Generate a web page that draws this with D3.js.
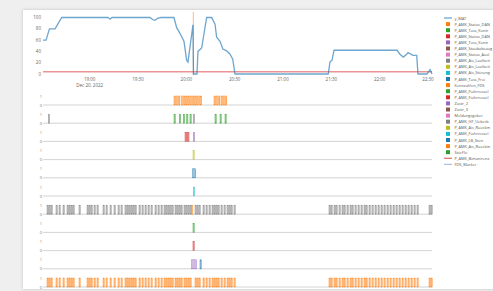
<!DOCTYPE html>
<html><head><meta charset="utf-8">
<script src="https://cdn.jsdelivr.net/npm/d3@7"></script>
<style>
html,body{margin:0;padding:0;background:#efefef;width:493px;height:291px;overflow:hidden;font-family:"Open Sans",Arial,sans-serif}
#card{position:absolute;left:23px;top:10px;width:480px;height:279px;background:#fff;box-shadow:0 0 3px rgba(0,0,0,0.2)}
svg{position:absolute;left:0;top:0}
</style></head><body><div id="card"></div><svg id="chart" width="493" height="291"></svg>
<script>
const day = "2022-12-20";
const xDomain = ["18:31:00", "22:32:30"];
const xTicks = ["19:00", "19:30", "20:00", "20:30", "21:00", "21:30", "22:00", "22:30"];
const dateLabel = "Dec 20, 2022";
const yTicks = [0, 20, 40, 60, 80, 100];

const lineTimes = ["18:31:00","18:32:54","18:35:00","18:38:30","18:42:36","19:11:24","19:12:36","19:13:48","19:37:24","19:39:18","19:40:30","19:42:24","19:44:18","19:52:18","19:54:00","19:56:00","19:58:30","20:00:12","20:01:00","20:04:06","20:04:24","20:06:36","20:07:12","20:09:30","20:12:36","20:15:42","20:17:48","20:18:48","20:20:54","20:22:42","20:25:00","20:27:06","20:28:48","20:30:12","21:28:06","21:29:12","21:30:24","21:31:42","22:10:48","22:12:36","22:14:42","22:16:48","22:17:36","22:18:48","22:20:42","22:23:00","22:23:48","22:29:24","22:31:18","22:32:30"];
const lineValues = [60,60,80,80,100,100,97,100,100,96,95,99,100,100,82,72,58,24,21,87,0,0,40,46,100,100,88,65,58,44,41,35,26,0,0,22,24,42,42,35,30,35,38,36,33,33,0,0,8,0];
const limitValue = 4;
const markerTimes = ["20:04:20"];

const legendNames = ["y_MAT","P_AMK_Status_DAN","P_AMK_Tass_Kontr","P_AMK_Status_DAN","P_AMK_Tass_Kontr","P_AMK_Staubabsaug","P_AMK_Status_Ausl","P_AMK_Ais_Laufzeit","P_AMK_Ais_Laufzeit","P_AMK_Ais_Störung","P_AMK_Tass_Frei","Kennzahlen_FDS","P_AMK_Fiahrrossel","P_AMK_Fiahrrossel","Zustr_2","Zustr_3","Meldungsgeber","P_AMK_HF_Ueberb","P_AMK_Ais_Rueckm","P_AMK_Fiahrrossel","P_AMK_LB_Ston","P_AMK_Ais_Rueckm","StörFlo","P_AMK_Bimanirenz","FDS_Marker"];

// strip data
const row1Spans = [["19:52:20","19:53:20"],["19:53:55","19:54:55"],["19:55:25","19:56:00"],["19:57:00","19:58:00"],["19:58:30","19:59:15"],["19:59:45","20:00:30"],["20:01:00","20:02:00"],["20:02:35","20:03:35"],["20:04:05","20:04:50"],["20:05:20","20:06:20"],["20:06:55","20:07:55"],["20:08:25","20:09:30"],["20:17:10","20:18:10"],["20:18:45","20:19:45"],["20:20:15","20:20:40"],["20:21:30","20:22:30"],["20:23:05","20:24:05"],["20:24:35","20:25:00"]];
const row2Green = ["19:52:20","19:55:37","19:58:06","20:00:13","20:02:15","20:17:47","20:20:53","20:23:59"];
const row2Gray = ["18:34:17","20:04:19"];
const row3Red = [["19:59:10","20:00:13"],["20:00:35","20:01:38"]];
const row3Purple = ["20:04:19"];
const row4Olive = ["20:04:07"];
const row5Blue = [["20:03:56","20:05:40"]];
const row6Blue = ["20:04:19"];
const denseTimes = ["18:33:29","18:34:43","18:35:58","18:39:04","18:40:56","18:43:25","18:45:54","18:47:08","18:48:23","18:49:37","18:53:21","18:58:19","18:59:33","19:00:48","19:02:40","19:04:31","19:08:15","19:10:07","19:12:36","19:15:05","19:17:34","19:19:25","19:21:54","19:23:09","19:24:23","19:25:38","19:26:52","19:28:07","19:30:36","19:32:27","19:34:19","19:36:11","19:38:03","19:40:32","19:42:23","19:44:15","19:46:07","19:47:21","19:48:36","19:49:50","19:51:05","19:52:57","19:54:11","19:55:26","19:56:40","19:58:32","19:59:46","20:01:01","20:02:15","20:05:22","20:06:36","20:07:51","20:10:20","20:12:11","20:14:03","20:15:55","20:17:10","20:18:24","20:19:38","20:21:30","20:23:22","20:25:14","20:26:28","20:27:43","20:29:34","21:28:33","21:29:47","21:31:39","21:32:53","21:34:46","21:36:37","21:37:52","21:39:43","21:41:35","21:42:50","21:44:41","21:46:33","21:48:25","21:50:17","21:51:31","21:53:23","21:55:14","21:57:07","21:58:58","22:00:50","22:02:41","22:04:34","22:06:25","22:08:17","22:10:08","22:12:00","22:13:52","22:15:44","22:17:35","22:19:27","22:21:19","22:23:11","22:30:38","22:31:52"];
const row7Orange = ["20:03:18"];
const row8Green = ["20:04:07"];
const row9Red = ["20:04:07"];
const row10Purple = [["20:03:18","20:06:10"]];
const row10Blue = ["20:08:28"];

const P = d3.schemeCategory10;
const pulseSec = 45;
const parse = t => new Date(day + "T" + (t.length === 5 ? t + ":00" : t));
const addSec = (d, s) => new Date(d.getTime() + s * 1000);

const svg = d3.select("#chart");
const left = 43, right = 432;
const x = d3.scaleTime().domain(xDomain.map(parse)).range([left, right]);
const y = d3.scaleLinear().domain([0, 100]).range([74, 17.5]);

svg.append("g").selectAll("text").data(yTicks).join("text")
  .attr("x", 41).attr("y", d => y(d) + 1.5).attr("text-anchor", "end")
  .attr("font-size", 4.5).attr("fill", "#666").text(d => d);

const xt = svg.append("g");
xt.selectAll("text").data(xTicks).join("text")
  .attr("x", d => x(parse(d))).attr("y", 81).attr("text-anchor", "middle")
  .attr("font-size", 4.5).attr("fill", "#666").text(d => d);
xt.append("text").attr("x", x(parse(xTicks[0]))).attr("y", 86.5).attr("text-anchor", "middle")
  .attr("font-size", 4.5).attr("fill", "#666").text(dateLabel);

svg.append("line").attr("x1", left).attr("x2", right)
  .attr("y1", y(limitValue)).attr("y2", y(limitValue))
  .attr("stroke", P[3]).attr("stroke-opacity", 0.5).attr("stroke-width", 1.6);

svg.selectAll(".mk").data(markerTimes).join("line").attr("class", "mk")
  .attr("x1", d => x(parse(d))).attr("x2", d => x(parse(d)))
  .attr("y1", 12).attr("y2", 75).attr("stroke", P[1]).attr("stroke-opacity", 0.6).attr("stroke-width", 0.9);

const pts = lineTimes.map((t, i) => [parse(t), lineValues[i]]);
svg.append("path").datum(pts)
  .attr("d", d3.line().x(d => x(d[0])).y(d => y(d[1])))
  .attr("fill", "none").attr("stroke", P[0]).attr("stroke-opacity", 0.65).attr("stroke-width", 1.3);

const rows = [
  [{spans: row1Spans, c: P[1]}],
  [{times: row2Green, c: P[2]}, {times: row2Gray, c: P[7]}],
  [{spans: row3Red, c: P[3]}, {times: row3Purple, c: P[4]}],
  [{times: row4Olive, c: P[8]}],
  [{spans: row5Blue, c: P[0]}],
  [{times: row6Blue, c: P[9]}],
  [{times: denseTimes, c: P[7]}, {times: row7Orange, c: P[1]}],
  [{times: row8Green, c: P[2]}],
  [{times: row9Red, c: P[3]}],
  [{spans: row10Purple, c: P[4]}, {times: row10Blue, c: P[0]}],
  [{times: denseTimes, c: P[1]}]
];
const base0 = 105, step = 18.2, h = 9;
rows.forEach((row, ri) => {
  const b = base0 + ri * step;
  const g = svg.append("g");
  g.append("line").attr("x1", left).attr("x2", right).attr("y1", b).attr("y2", b)
    .attr("stroke", "#c8c8c8").attr("stroke-width", 0.8);
  g.append("text").attr("x", 42).attr("y", b + 1.5).attr("text-anchor", "end").attr("font-size", 4).attr("fill", "#777").text("0");
  g.append("text").attr("x", 42).attr("y", b - h + 1.5).attr("text-anchor", "end").attr("font-size", 4).attr("fill", "#777").text("1");
  row.forEach(s => {
    const spans = s.spans ? s.spans.map(p => [parse(p[0]), parse(p[1])])
                          : s.times.map(t => [parse(t), addSec(parse(t), pulseSec)]);
    g.selectAll(null).data(spans).join("rect")
      .attr("x", d => x(d[0])).attr("width", d => Math.max(0.8, x(d[1]) - x(d[0])))
      .attr("y", b - h).attr("height", h)
      .attr("fill", s.c).attr("fill-opacity", 0.45)
      .attr("stroke", s.c).attr("stroke-opacity", 0.85).attr("stroke-width", 0.5);
  });
});

const lg = svg.append("g");
legendNames.forEach((n, i) => {
  const ly = 18 + i * 6.1;
  const last = legendNames.length;
  if (i === 0 || i >= last - 2) {
    const c = i === 0 ? P[0] : (i === last - 2 ? P[3] : "#8fa0e0");
    lg.append("line").attr("x1", 444).attr("x2", 452).attr("y1", ly).attr("y2", ly)
      .attr("stroke", c).attr("stroke-opacity", 0.7).attr("stroke-width", 1.2);
  } else {
    lg.append("rect").attr("x", 446).attr("y", ly - 2).attr("width", 4).attr("height", 4)
      .attr("fill", P[i % 10]);
  }
  lg.append("text").attr("x", 454.5).attr("y", ly + 1.5).attr("font-size", 3.9).attr("fill", "#555").text(n);
});
</script></body></html>
